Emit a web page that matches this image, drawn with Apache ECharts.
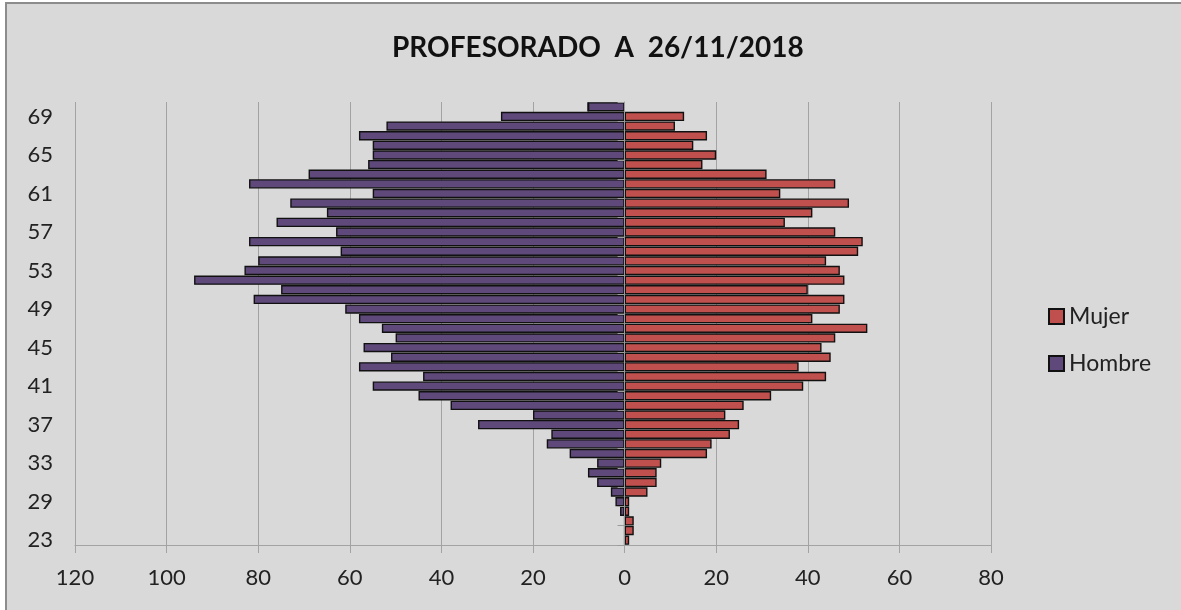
<!DOCTYPE html>
<html>
<head>
<meta charset="utf-8">
<script src="https://cdn.jsdelivr.net/npm/echarts@6/dist/echarts.min.js"></script>
<style>
html, body { margin: 0; padding: 0; background: #fff; }
#chart { width: 1181px; height: 610px; }
</style>
</head>
<body>
<div id="chart"></div>
<script>
// edades de abajo a arriba
const edades = ['23', '26', '27', '28', '29', '30', '31', '32', '33', '34', '35', '36', '37', '38', '39', '40',
  '41', '42', '43', '44', '45', '46', '47', '48', '49', '50', '51', '52', '53', '54', '55', '56', '57', '58',
  '59', '60', '61', '62', '63', '64', '65', '66', '67', '68', '69', '70']
const hombre = [0, 0, 0, 1, 2, 3, 6, 8, 6, 12, 17, 16, 32, 20, 38, 45,
  55, 44, 58, 51, 57, 50, 53, 58, 61, 81, 75, 94, 83, 80, 62, 82, 63, 76,
  65, 73, 55, 82, 69, 56, 55, 55, 58, 52, 27, 8]
const mujer = [1, 2, 2, 1, 1, 5, 7, 7, 8, 18, 19, 23, 25, 22, 26, 32,
  39, 44, 38, 45, 43, 46, 53, 41, 47, 48, 40, 48, 47, 44, 51, 52, 46, 35,
  41, 49, 34, 46, 31, 17, 20, 15, 18, 11, 13, 0]

const FONT = 'Lato'
const TXT = '#222'
const GRID = '#a3a3a3'

const chart = echarts.init(document.getElementById('chart'))

const option = {
  animation: false,
  backgroundColor: '#fff',
  graphic: [
    {
      type: 'rect',
      z: -10,
      silent: true,
      shape: { x: 6, y: 3, width: 1190, height: 620 },
      style: { fill: '#d9d9d9', stroke: '#8c8c8c', lineWidth: 2 },
    },
  ],
  title: {
    text: 'PROFESORADO  A  26/11/2018',
    left: 387,
    top: 29,
    textStyle: { fontFamily: FONT, fontWeight: 'bold', fontSize: 28, color: '#111' },
  },
  legend: {
    data: ['Mujer', 'Hombre'],
    orient: 'vertical',
    left: 1043,
    top: 300,
    icon: 'rect',
    itemWidth: 15,
    itemHeight: 15,
    itemGap: 24,
    textStyle: { fontFamily: FONT, fontSize: 23, color: TXT, lineHeight: 23 },
  },
  grid: { left: 75, right: 190, top: 102, bottom: 65 },
  xAxis: {
    type: 'value',
    min: -120,
    max: 80,
    interval: 20,
    axisLabel: {
      formatter: (v) => Math.abs(v),
      fontFamily: FONT,
      fontSize: 22,
      color: TXT,
      margin: 22,
    },
    axisLine: { show: true, lineStyle: { color: GRID } },
    axisTick: { show: true, length: 8, lineStyle: { color: GRID } },
    splitLine: { show: true, lineStyle: { color: GRID } },
  },
  yAxis: [
    {
      type: 'category',
      data: edades,
      position: 'left',
      axisLine: { show: false, onZero: false },
      axisTick: { show: false },
      splitLine: { show: false },
      axisLabel: { interval: 3, margin: 22, fontFamily: FONT, fontSize: 22, color: TXT },
    },
    {
      type: 'category',
      data: edades,
      position: 'left',
      z: 3,
      axisLine: { show: true, onZero: true, lineStyle: { color: '#9a9a9a' } },
      axisTick: { show: true, length: 7, lineStyle: { color: '#9a9a9a' } },
      axisLabel: { show: false },
      splitLine: { show: false },
    },
  ],
  series: [
    {
      name: 'Hombre',
      type: 'bar',
      stack: 'piramide',
      yAxisIndex: 0,
      barWidth: '97%',
      data: hombre.map((v) => -v),
      itemStyle: { color: '#5f497a', borderColor: '#111', borderWidth: 1.4 },
    },
    {
      name: 'Mujer',
      type: 'bar',
      stack: 'piramide',
      yAxisIndex: 0,
      barWidth: '97%',
      data: mujer,
      itemStyle: { color: '#c0504d', borderColor: '#111', borderWidth: 1.4 },
    },
  ],
}

chart.setOption(option)
</script>
</body>
</html>
